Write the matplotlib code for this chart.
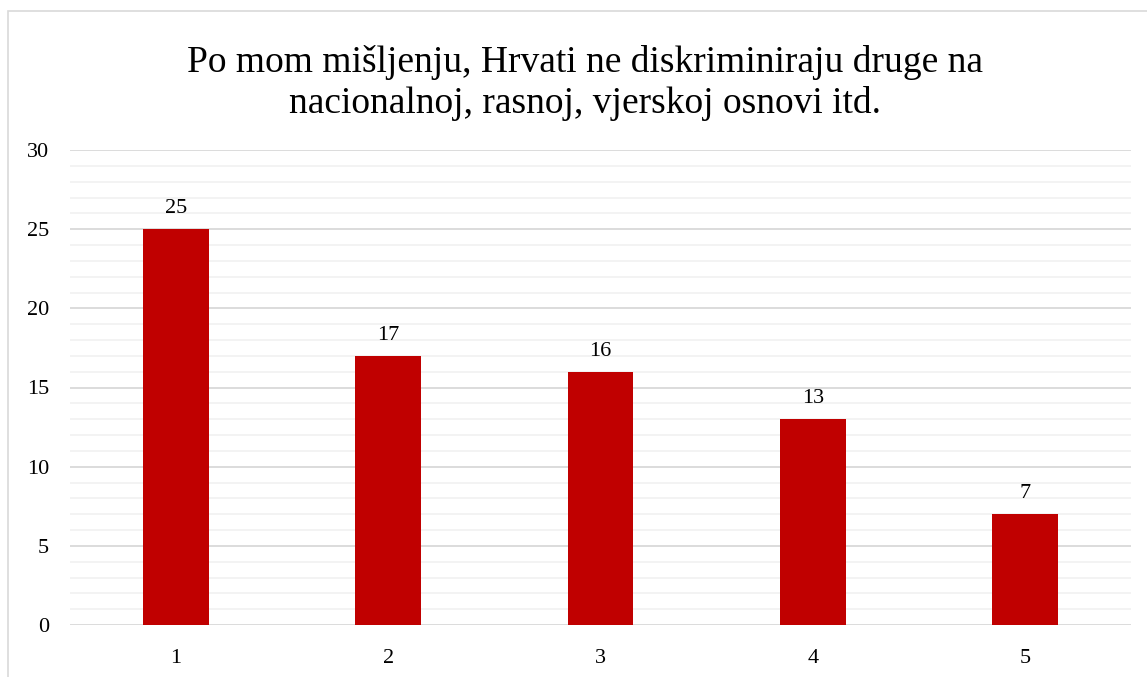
import matplotlib.pyplot as plt
import matplotlib.patches as patches
import numpy as np

categories = ["1", "2", "3", "4", "5"]
values = [25, 17, 16, 13, 7]
title = "Po mom mišljenju, Hrvati ne diskriminiraju druge na\nnacionalnoj, rasnoj, vjerskoj osnovi itd."

plt.rcParams['font.family'] = ['Liberation Serif', 'DejaVu Serif']

fig = plt.figure(figsize=(11.47, 6.77), dpi=100)
W, H = 1147, 677
ax = fig.add_axes([70 / W, 1 - 625 / H, (1131 - 70) / W, (625 - 150) / H])

# chart border (cropped at right/bottom)
fig.patches.append(patches.Rectangle((8 / W, -0.1), 1.2, 1 - 11 / H + 0.1,
                                     transform=fig.transFigure, fill=False,
                                     edgecolor='#D9D9D9', linewidth=1.2))

x = np.arange(len(categories))
ax.bar(x, values, width=0.31, color='#C00000', zorder=3)
for xi, v in zip(x, values):
    ax.text(xi, v + 0.7, str(v), ha='center', va='bottom', fontsize=16, color='#000000')

ax.set_xlim(-0.5, len(categories) - 0.5)
ax.set_ylim(0, 30)
ax.set_yticks(np.arange(0, 31, 5))
ax.set_yticks(np.arange(0, 31, 1), minor=True)
ax.set_xticks(x)
ax.set_xticklabels(categories)
ax.tick_params(axis='both', which='both', length=0, labelsize=16, colors='#000000')
ax.tick_params(axis='y', pad=15)
ax.tick_params(axis='x', pad=17)
ax.grid(axis='y', which='major', color='#D9D9D9', linewidth=1.3, zorder=0)
ax.grid(axis='y', which='minor', color='#F2F2F2', linewidth=1.3, zorder=0)
for s in ax.spines.values():
    s.set_visible(False)

fig.text(585 / W, 1 - 83 / H, title, ha='center', va='center', fontsize=27,
         linespacing=1.22, color='#000000')

fig.savefig("out.png", dpi=100)
